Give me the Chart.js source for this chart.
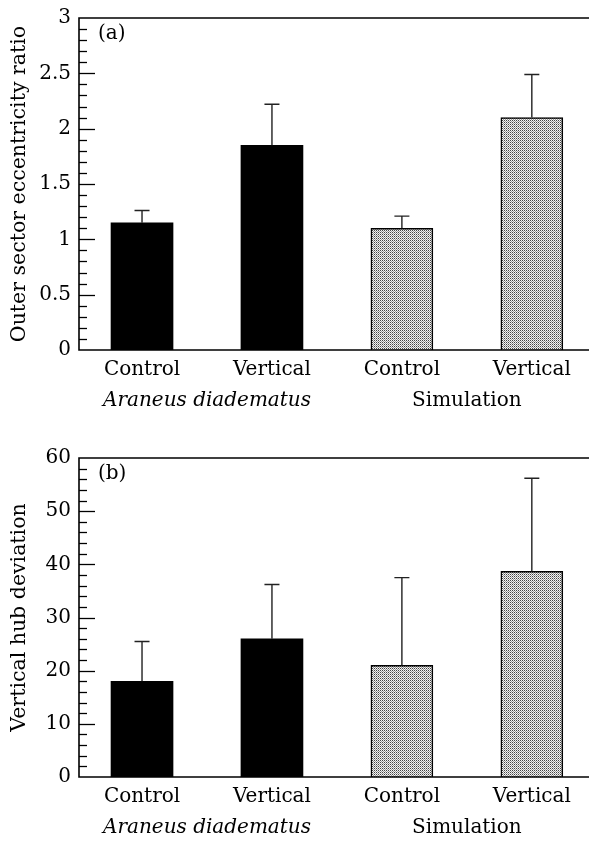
<!DOCTYPE html>
<html>
<head>
<meta charset="utf-8">
<script src="https://cdn.jsdelivr.net/npm/chart.js@4.4.0/dist/chart.umd.min.js"></script>
<style>
  body { margin: 0; background: #fff; }
  canvas { display: block; }
</style>
</head>
<body>
<canvas id="chartA" width="589" height="426"></canvas>
<canvas id="chartB" width="589" height="427"></canvas>
<script>
// data
const categories = ['Control', 'Vertical', 'Control', 'Vertical'];
const groups = ['Araneus diadematus', 'Simulation'];
const ratioMeans = [1.15, 1.85, 1.1, 2.1];
const ratioUpper = [1.26, 2.22, 1.21, 2.49];
const hubMeans = [18, 26, 21, 38.7];
const hubUpper = [25.5, 36.2, 37.5, 56.2];

const FONT = 'DejaVu Serif';

// stippled fill for the simulation bars
function makePattern() {
    var c = document.createElement('canvas');
    c.width = 2; c.height = 2;
    var g = c.getContext('2d');
    g.fillStyle = '#f2f2f2';
    g.fillRect(0, 0, 2, 2);
    g.fillStyle = '#444';
    g.fillRect(0, 0, 1, 1);
    g.fillStyle = '#999';
    g.fillRect(1, 1, 1, 1);
    return g.createPattern(c, 'repeat');
}
const dots = makePattern();

// error bars, inward ticks, frame and labels
const extras = {
    id: 'extras',
    afterDatasetsDraw(chart, args, opts) {
        const ctx = chart.ctx;
        const y = chart.scales.y;
        const x = chart.scales.x;
        const area = chart.chartArea;
        ctx.save();
        // error bars
        ctx.strokeStyle = '#222';
        ctx.lineWidth = 1.4;
        chart.getDatasetMeta(0).data.forEach(function(bar, i) {
            const top = y.getPixelForValue(opts.upper[i]);
            ctx.beginPath();
            ctx.moveTo(bar.x, bar.y);
            ctx.lineTo(bar.x, top);
            ctx.moveTo(bar.x - 7.5, top);
            ctx.lineTo(bar.x + 7.5, top);
            ctx.stroke();
        });
        // inward ticks
        ctx.strokeStyle = '#000';
        ctx.lineWidth = 1.3;
        const n = Math.round((y.max - y.min) / opts.minor);
        for (let k = 1; k < n; k++) {
            const v = y.min + k * opts.minor;
            const py = Math.round(y.getPixelForValue(v)) + 0.5;
            const major = k % opts.every === 0;
            ctx.beginPath();
            ctx.moveTo(area.left, py);
            ctx.lineTo(area.left + (major ? 16 : 8), py);
            ctx.stroke();
        }
        // frame: left, bottom, top
        ctx.lineWidth = 1.6;
        ctx.beginPath();
        ctx.moveTo(area.right, area.top);
        ctx.lineTo(area.left, area.top);
        ctx.lineTo(area.left, area.bottom);
        ctx.lineTo(area.right, area.bottom);
        ctx.stroke();
        // panel label
        ctx.fillStyle = '#000';
        ctx.font = '20px "' + FONT + '"';
        ctx.textBaseline = 'middle';
        ctx.textAlign = 'left';
        ctx.fillText(opts.panel, area.left + 19, area.top + 16);
        // group labels
        ctx.textAlign = 'center';
        ctx.font = 'italic 20px "' + FONT + '"';
        ctx.fillText(groups[0], x.getPixelForValue(0.5), area.bottom + 51);
        ctx.font = '20px "' + FONT + '"';
        ctx.fillText(groups[1], x.getPixelForValue(2.5), area.bottom + 51);
        ctx.restore();
    }
};

function createChart(id, means, upper, yMax, step, minor, every, panel, title, topPad) {
    new Chart(document.getElementById(id), {
        type: 'bar',
        data: {
            datasets: [{
                data: means.map(function(v, i) { return { x: i, y: v }; }),
                backgroundColor: ['#000', '#000', dots, dots],
                borderColor: '#000',
                borderWidth: [0, 0, 1.5, 1.5],
                barThickness: 62
            }]
        },
        options: {
            responsive: false,
            animation: false,
            layout: { padding: { top: topPad, left: 0, right: 0, bottom: 0 } },
            plugins: {
                legend: { display: false },
                tooltip: { enabled: false },
                extras: { upper: upper, minor: minor, every: every, panel: panel }
            },
            scales: {
                x: {
                    type: 'linear',
                    offset: false,
                    min: -0.485,
                    max: 3.44,
                    grid: { display: false },
                    border: { display: false },
                    afterBuildTicks: function(s) {
                        s.ticks = [0, 1, 2, 3].map(function(v) { return { value: v }; });
                    },
                    afterFit: function(s) { s.height = 76; },
                    ticks: {
                        color: '#000',
                        padding: 0,
                        maxRotation: 0,
                        autoSkip: false,
                        font: { family: FONT, size: 20 },
                        callback: function(v) { return categories[v]; }
                    }
                },
                y: {
                    min: 0,
                    max: yMax,
                    grid: { display: false },
                    border: { display: false },
                    afterFit: function(s) { s.width = 79; },
                    ticks: {
                        stepSize: step,
                        color: '#000',
                        padding: 0,
                        font: { family: FONT, size: 20 },
                        callback: function(v) { return String(+v.toFixed(2)); }
                    },
                    title: {
                        display: true,
                        text: title,
                        color: '#000',
                        padding: { top: 7, bottom: 0 },
                        font: { family: FONT, size: 20.5 }
                    }
                }
            }
        },
        plugins: [extras]
    });
}

createChart('chartA', ratioMeans, ratioUpper, 3, 0.5, 0.1, 5, '(a)', 'Outer sector eccentricity ratio', 18);
createChart('chartB', hubMeans, hubUpper, 60, 10, 2, 5, '(b)', 'Vertical hub deviation', 32);
</script>
</body>
</html>
